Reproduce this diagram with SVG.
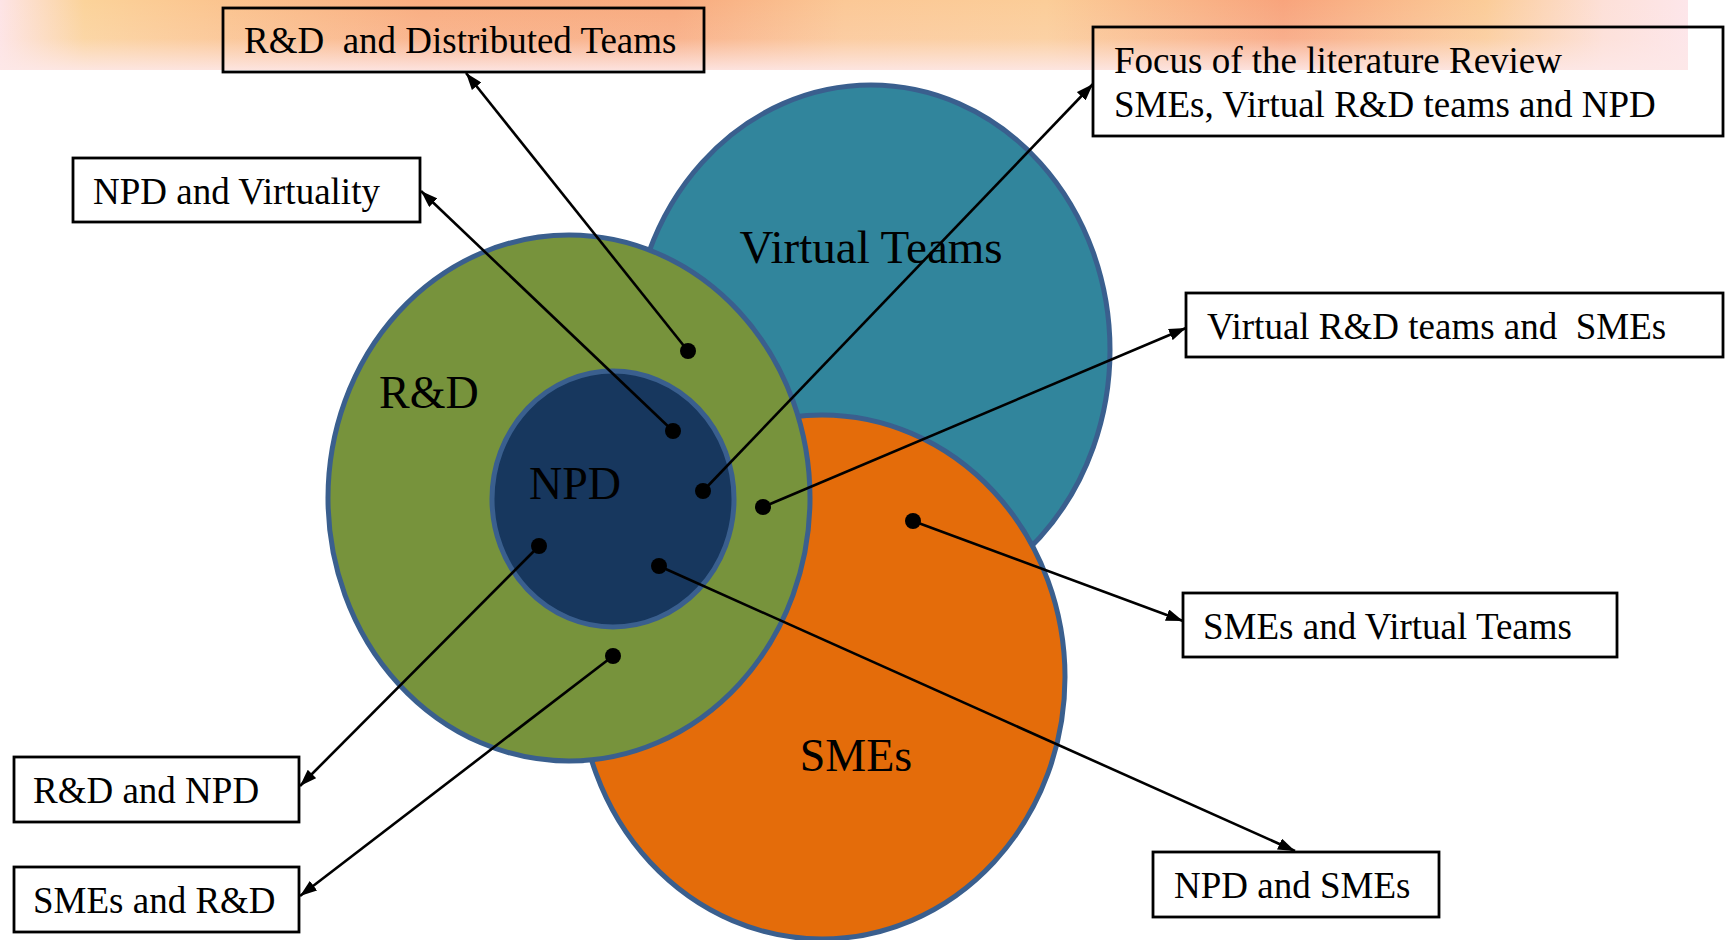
<svg xmlns="http://www.w3.org/2000/svg" width="1727" height="940" viewBox="0 0 1727 940">
  <style>
    .circ { stroke: #3a5f8e; stroke-width: 5; }
    .clabel { font-family: "Liberation Serif", "Times New Roman", serif; font-size: 46px; fill: #000; }
    .box { fill: none; stroke: #000; stroke-width: 2.8; }
    .blabel { font-family: "Liberation Serif", "Times New Roman", serif; font-size: 37px; fill: #000; white-space: pre; }
    .conn { stroke: #000; stroke-width: 2.6; fill: none; marker-end: url(#arrow); }
    .dot { fill: #000; }
  </style>
  <defs>
    <linearGradient id="bannerH" x1="0" y1="0" x2="1" y2="0">
      <stop offset="0" stop-color="#fde4e6"/>
      <stop offset="0.05" stop-color="#fbd39a"/>
      <stop offset="0.12" stop-color="#fbc690"/>
      <stop offset="0.25" stop-color="#f9ad80"/>
      <stop offset="0.4" stop-color="#f8aa7e"/>
      <stop offset="0.5" stop-color="#fbc896"/>
      <stop offset="0.62" stop-color="#fbcd98"/>
      <stop offset="0.76" stop-color="#f8a47c"/>
      <stop offset="0.88" stop-color="#fbcc98"/>
      <stop offset="0.95" stop-color="#fde0d8"/>
      <stop offset="1" stop-color="#fde6ea"/>
    </linearGradient>
    <linearGradient id="bannerV" x1="0" y1="0" x2="0" y2="1">
      <stop offset="0" stop-color="#fde8e8" stop-opacity="0"/>
      <stop offset="0.55" stop-color="#fde8e8" stop-opacity="0.15"/>
      <stop offset="1" stop-color="#fde8e8" stop-opacity="0.9"/>
    </linearGradient>
    <marker id="arrow" viewBox="0 0 17 12" refX="17" refY="6" markerWidth="17" markerHeight="12" markerUnits="userSpaceOnUse" orient="auto">
      <path d="M0,0 L17,6 L0,12 z" fill="#000"/>
    </marker>
  </defs>

  <rect x="0" y="0" width="1727" height="940" fill="#fff"/>
  <g id="banner">
    <rect x="0" y="0" width="1688" height="70" fill="url(#bannerH)"/>
    <rect x="0" y="0" width="1688" height="70" fill="url(#bannerV)"/>
  </g>

  <g id="virtual-teams">
    <ellipse class="circ" cx="871" cy="350" rx="239" ry="265" fill="#31859c"/>
  </g>
  <g id="smes">
    <ellipse class="circ" cx="822" cy="677" rx="243" ry="262" fill="#e46c0a"/>
  </g>
  <g id="rnd">
    <ellipse class="circ" cx="569" cy="498" rx="241" ry="263" fill="#77933c"/>
  </g>
  <g id="npd">
    <ellipse class="circ" cx="613" cy="499" rx="121" ry="128" fill="#17375e"/>
  </g>

  <g id="circle-labels">
    <text class="clabel" x="871" y="263" text-anchor="middle" style="font-size:47px">Virtual Teams</text>
    <text class="clabel" x="379" y="408">R&amp;D</text>
    <text class="clabel" x="529" y="499">NPD</text>
    <text class="clabel" x="856" y="771" text-anchor="middle">SMEs</text>
  </g>

  <g id="connectors">
    <line class="conn" x1="688" y1="351" x2="466" y2="73"/>
    <line class="conn" x1="673" y1="431" x2="421" y2="191"/>
    <line class="conn" x1="703" y1="491" x2="1093" y2="84"/>
    <line class="conn" x1="763" y1="507" x2="1186" y2="328"/>
    <line class="conn" x1="913" y1="521" x2="1183" y2="621"/>
    <line class="conn" x1="539" y1="546" x2="300" y2="786"/>
    <line class="conn" x1="659" y1="566" x2="1295" y2="851"/>
    <line class="conn" x1="613" y1="656" x2="300" y2="896"/>
    <circle class="dot" cx="688" cy="351" r="8"/>
    <circle class="dot" cx="673" cy="431" r="8"/>
    <circle class="dot" cx="703" cy="491" r="8"/>
    <circle class="dot" cx="763" cy="507" r="8"/>
    <circle class="dot" cx="913" cy="521" r="8"/>
    <circle class="dot" cx="539" cy="546" r="8"/>
    <circle class="dot" cx="659" cy="566" r="8"/>
    <circle class="dot" cx="613" cy="656" r="8"/>
  </g>

  <g id="box-rnd-distributed">
    <rect class="box" x="223" y="8" width="481" height="64"/>
    <text class="blabel" x="244" y="53">R&amp;D  and Distributed Teams</text>
  </g>
  <g id="box-focus">
    <rect class="box" x="1093" y="27" width="630" height="109"/>
    <text class="blabel" x="1114" y="73">Focus of the literature Review</text>
    <text class="blabel" x="1114" y="117">SMEs, Virtual R&amp;D teams and NPD</text>
  </g>
  <g id="box-npd-virtuality">
    <rect class="box" x="73" y="158" width="347" height="64"/>
    <text class="blabel" x="93" y="204">NPD and Virtuality</text>
  </g>
  <g id="box-virtual-rnd-smes">
    <rect class="box" x="1186" y="293" width="537" height="64"/>
    <text class="blabel" x="1207" y="339">Virtual R&amp;D teams and  SMEs</text>
  </g>
  <g id="box-smes-virtual">
    <rect class="box" x="1183" y="593" width="434" height="64"/>
    <text class="blabel" x="1203" y="639">SMEs and Virtual Teams</text>
  </g>
  <g id="box-rnd-npd">
    <rect class="box" x="14" y="757" width="285" height="65"/>
    <text class="blabel" x="33" y="803">R&amp;D and NPD</text>
  </g>
  <g id="box-smes-rnd">
    <rect class="box" x="14" y="867" width="285" height="65"/>
    <text class="blabel" x="33" y="913">SMEs and R&amp;D</text>
  </g>
  <g id="box-npd-smes">
    <rect class="box" x="1153" y="852" width="286" height="65"/>
    <text class="blabel" x="1174" y="898">NPD and SMEs</text>
  </g>
</svg>
